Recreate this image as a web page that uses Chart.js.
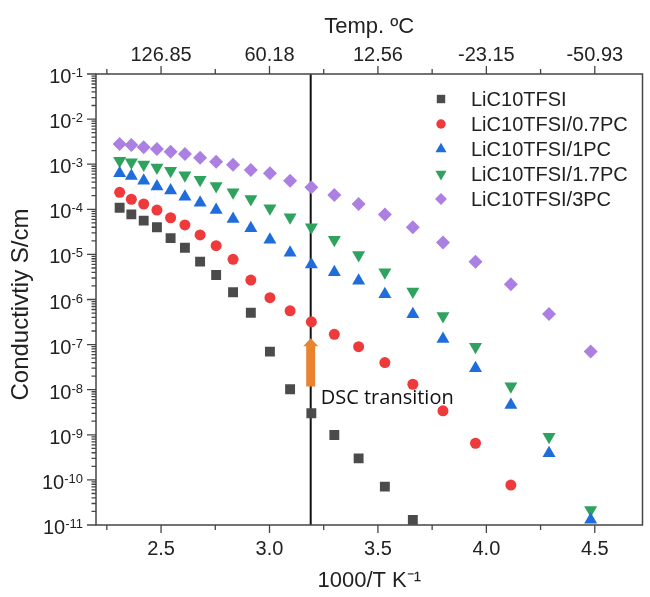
<!DOCTYPE html>
<html>
<head>
<meta charset="utf-8">
<script src="https://cdn.jsdelivr.net/npm/chart.js@4.4.1/dist/chart.umd.min.js"></script>
<style>
  html, body { margin: 0; padding: 0; background: #fff; }
  #wrap { width: 650px; height: 597px; }
</style>
</head>
<body>
<div id="wrap"><canvas id="chart" width="650" height="597"></canvas></div>
<script>
// 1000/T (K^-1) for 160 C down to -50 C in 10 C steps
const invT = [2.309, 2.363, 2.420, 2.481, 2.544, 2.610, 2.680, 2.754, 2.832, 2.914, 3.002,
              3.095, 3.193, 3.299, 3.411, 3.532, 3.661, 3.800, 3.950, 4.113, 4.289, 4.481];

// conductivity, S/cm
const neat = [1.08e-4, 7.7e-5, 5.6e-5, 4.0e-5, 2.3e-5, 1.4e-5, 6.9e-6, 3.5e-6, 1.45e-6, 5.1e-7,
              7.0e-8, 1.02e-8, 3.0e-9, 9.9e-10, 3.0e-10, 7.1e-11, 1.3e-11];
const pc07 = [2.38e-4, 1.67e-4, 1.31e-4, 9.6e-5, 6.5e-5, 4.5e-5, 2.7e-5, 1.56e-5, 7.8e-6, 2.7e-6,
              1.1e-6, 5.6e-7, 3.2e-7, 1.69e-7, 9.0e-8, 4.0e-8, 1.32e-8, 3.4e-9, 6.5e-10, 7.7e-11];
const pc1 = [6.3e-4, 5.5e-4, 4.3e-4, 3.2e-4, 2.6e-4, 1.9e-4, 1.4e-4, 9.6e-5, 6.1e-5, 3.8e-5, 2.1e-5,
             1.09e-5, 6.0e-6, 4.0e-6, 2.6e-6, 1.3e-6, 4.7e-7, 1.33e-7, 3.0e-8, 4.6e-9, 3.9e-10, 1.3e-11];
const pc17 = [1.2e-3, 1.1e-3, 9.9e-4, 8.5e-4, 7.2e-4, 5.7e-4, 4.5e-4, 3.3e-4, 2.4e-4, 1.7e-4, 1.05e-4,
              6.7e-5, 4.0e-5, 2.1e-5, 9.7e-6, 4.0e-6, 1.5e-6, 4.3e-7, 9.0e-8, 1.2e-8, 9.1e-10, 2.15e-11];
const pc3 = [2.8e-3, 2.67e-3, 2.37e-3, 2.17e-3, 1.89e-3, 1.68e-3, 1.39e-3, 1.13e-3, 9.75e-4, 7.4e-4, 6.3e-4,
             4.3e-4, 3.07e-4, 2.07e-4, 1.31e-4, 7.7e-5, 4.0e-5, 1.84e-5, 6.9e-6, 2.17e-6, 4.8e-7, 7.0e-8];

const seriesNames = ['LiC10TFSI', 'LiC10TFSI/0.7PC', 'LiC10TFSI/1PC', 'LiC10TFSI/1.7PC', 'LiC10TFSI/3PC'];

const xTicks = [2.5, 3.0, 3.5, 4.0, 4.5];
const xMinor = [2.25, 2.75, 3.25, 3.75, 4.25];
const topLabels = ['126.85', '60.18', '12.56', '-23.15', '-50.93'];
const yExps = [-1, -2, -3, -4, -5, -6, -7, -8, -9, -10, -11];
const yTitle = 'Conductivtiy S/cm';

const dscX = 3.19;
const arrowFrom = 1.17e-8;
const arrowTo = 1.38e-7;
const dscLabel = 'DSC transition';
const dscLabelY = 6.5e-9;

const FONT = '"Liberation Sans", Arial, sans-serif';
const ink = '#222';
const axisColor = '#454545';

const styles = [
  { color: '#4b4b4b', pointStyle: 'rect', rotation: 0, radius: 7 },
  { color: '#ee3a3b', pointStyle: 'circle', rotation: 0, radius: 5.5 },
  { color: '#1f6ddb', pointStyle: 'triangle', rotation: 0, radius: 7.5 },
  { color: '#2ea25e', pointStyle: 'triangle', rotation: 180, radius: 7.5 },
  { color: '#ab80e2', pointStyle: 'rectRot', rotation: 0, radius: 7 },
];

const toPoints = (vals) => vals.map((v, i) => ({ x: invT[i], y: v }));
const allSeries = [neat, pc07, pc1, pc17, pc3];

const datasets = allSeries.map((vals, i) => ({
  label: seriesNames[i],
  data: toPoints(vals),
  showLine: false,
  clip: 0,
  pointStyle: styles[i].pointStyle,
  pointRotation: styles[i].rotation,
  pointRadius: styles[i].radius,
  pointHoverRadius: styles[i].radius,
  pointBackgroundColor: styles[i].color,
  pointBorderColor: styles[i].color,
  pointBorderWidth: 0,
}));

const decor = {
  id: 'decor',
  beforeDatasetsDraw(chart) {
    const { ctx, chartArea: a, scales: { x, y } } = chart;
    const px = x.getPixelForValue(dscX);
    ctx.save();
    ctx.strokeStyle = '#111';
    ctx.lineWidth = 2;
    ctx.beginPath();
    ctx.moveTo(px, a.top);
    ctx.lineTo(px, a.bottom);
    ctx.stroke();

    // orange arrow
    const yb = y.getPixelForValue(arrowFrom);
    const yt = y.getPixelForValue(arrowTo);
    ctx.fillStyle = '#e8842f';
    ctx.beginPath();
    ctx.moveTo(px - 4.5, yb);
    ctx.lineTo(px - 4.5, yt + 8);
    ctx.lineTo(px - 7.5, yt + 8);
    ctx.lineTo(px, yt);
    ctx.lineTo(px + 7.5, yt + 8);
    ctx.lineTo(px + 4.5, yt + 8);
    ctx.lineTo(px + 4.5, yb);
    ctx.closePath();
    ctx.fill();

    ctx.font = '20px "Open Sans", sans-serif';
    ctx.fillStyle = '#111';
    ctx.textAlign = 'left';
    ctx.textBaseline = 'middle';
    ctx.fillText(dscLabel, px + 10, y.getPixelForValue(dscLabelY));
    ctx.restore();
  },
  afterDraw(chart) {
    const { ctx, chartArea: a, scales: { x, y } } = chart;
    ctx.save();
    ctx.strokeStyle = axisColor;
    ctx.lineWidth = 1.5;
    ctx.strokeRect(a.left, a.top, a.right - a.left, a.bottom - a.top);

    // tick marks
    ctx.lineWidth = 1.3;
    ctx.beginPath();
    xTicks.forEach((v) => {
      const p = x.getPixelForValue(v);
      ctx.moveTo(p, a.bottom); ctx.lineTo(p, a.bottom + 8);
      ctx.moveTo(p, a.top); ctx.lineTo(p, a.top - 8);
    });
    xMinor.forEach((v) => {
      const p = x.getPixelForValue(v);
      ctx.moveTo(p, a.bottom); ctx.lineTo(p, a.bottom + 5);
      ctx.moveTo(p, a.top); ctx.lineTo(p, a.top - 5);
    });
    yExps.forEach((e) => {
      const p = y.getPixelForValue(Math.pow(10, e));
      ctx.moveTo(a.left - 9, p); ctx.lineTo(a.left, p);
      if (e === -1) return;
      for (let m = 2; m <= 9; m++) {
        const q = y.getPixelForValue(m * Math.pow(10, e));
        ctx.moveTo(a.left - 4.5, q); ctx.lineTo(a.left, q);
      }
    });
    ctx.stroke();

    // y tick labels with superscript exponents
    ctx.fillStyle = ink;
    ctx.textAlign = 'right';
    ctx.textBaseline = 'alphabetic';
    const labelRight = a.left - 13;
    yExps.forEach((e) => {
      const p = y.getPixelForValue(Math.pow(10, e));
      const exp = String(e);
      ctx.font = '13px ' + FONT;
      const ew = ctx.measureText(exp).width;
      ctx.fillText(exp, labelRight, p + 3);
      ctx.font = '20px ' + FONT;
      ctx.fillText('10', labelRight - ew, p + 9);
    });

    // y axis title
    ctx.save();
    ctx.translate(21, (a.top + a.bottom) / 2 + 5);
    ctx.rotate(-Math.PI / 2);
    ctx.textAlign = 'center';
    ctx.textBaseline = 'middle';
    ctx.font = '24px ' + FONT;
    ctx.fillText(yTitle, 0, 0);
    ctx.restore();

    // legend
    const lx = a.left + 345;
    const ly = a.top + 25;
    ctx.textAlign = 'left';
    ctx.textBaseline = 'middle';
    ctx.font = '20px ' + FONT;
    seriesNames.forEach((name, i) => {
      const yy = ly + i * 25;
      ctx.fillStyle = styles[i].color;
      Chart.helpers.drawPoint(ctx, {
        pointStyle: styles[i].pointStyle,
        rotation: styles[i].rotation,
        radius: styles[i].radius * 0.85,
        borderWidth: 0,
      }, lx, yy);
      ctx.fillStyle = ink;
      ctx.fillText(name, lx + 30, yy + 1);
    });
    ctx.restore();
  },
};

const sameTick = (a, b) => Math.abs(a - b) < 1e-6;

new Chart(document.getElementById('chart'), {
  type: 'scatter',
  data: { datasets },
  options: {
    responsive: false,
    animation: false,
    devicePixelRatio: 1,
    layout: { padding: { right: 3 } },
    plugins: { legend: { display: false }, tooltip: { enabled: false } },
    scales: {
      x: {
        type: 'linear',
        position: 'bottom',
        min: 2.2,
        max: 4.72,
        afterBuildTicks: (s) => { s.ticks = xTicks.map((v) => ({ value: v })); },
        afterFit: (s) => { s.height = 72; },
        grid: { display: false, drawTicks: false },
        border: { display: false },
        ticks: {
          autoSkip: false,
          maxRotation: 0,
          padding: 12,
          color: ink,
          font: { family: FONT, size: 20 },
          callback: (v) => Number(v).toFixed(1),
        },
        title: {
          display: true,
          text: '1000/T K⁻¹',
          color: ink,
          font: { family: FONT, size: 22 },
          padding: { top: 0, bottom: 3 },
        },
      },
      x2: {
        type: 'linear',
        position: 'top',
        min: 2.2,
        max: 4.72,
        afterBuildTicks: (s) => { s.ticks = xTicks.map((v) => ({ value: v })); },
        afterFit: (s) => { s.height = 74; },
        grid: { display: false, drawTicks: false },
        border: { display: false },
        ticks: {
          autoSkip: false,
          maxRotation: 0,
          padding: 7,
          color: ink,
          font: { family: FONT, size: 20 },
          callback: (v) => topLabels[xTicks.findIndex((t) => sameTick(t, v))],
        },
        title: {
          display: true,
          text: 'Temp. ºC',
          color: ink,
          font: { family: FONT, size: 22 },
          padding: { top: 14, bottom: 0 },
        },
      },
      y: {
        type: 'logarithmic',
        position: 'left',
        min: 1e-11,
        max: 1e-1,
        afterFit: (s) => { s.width = 96; },
        grid: { display: false, drawTicks: false },
        border: { display: false },
        ticks: { display: false },
        title: { display: false },
      },
    },
  },
  plugins: [decor],
});
</script>
</body>
</html>
